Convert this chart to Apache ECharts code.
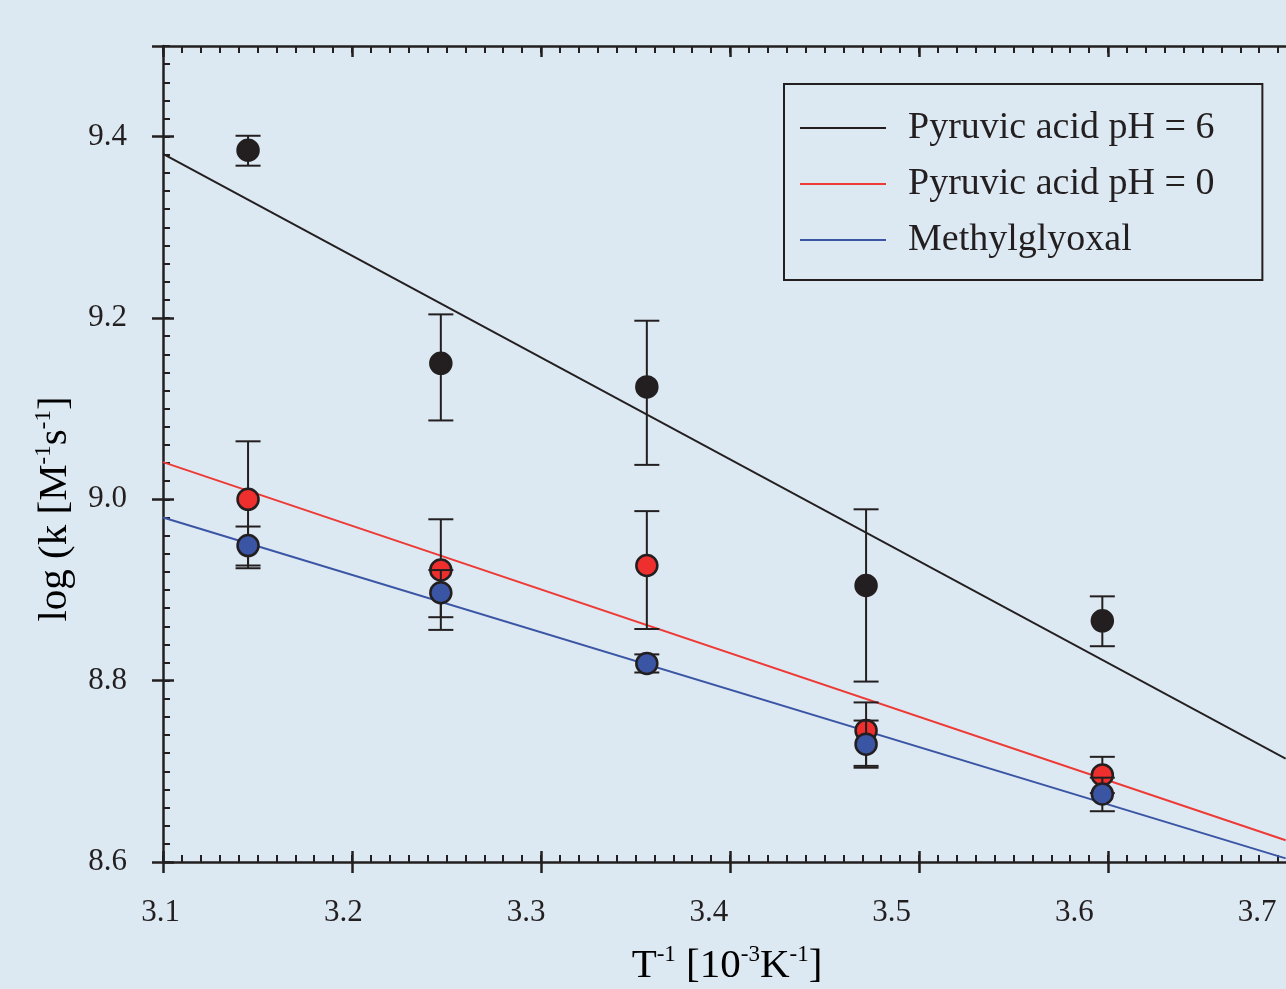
<!DOCTYPE html>
<html>
<head>
<meta charset="utf-8">
<script src="https://cdn.jsdelivr.net/npm/echarts@6/dist/echarts.min.js"></script>
<style>
html, body { margin: 0; padding: 0; background: #dde9f2; }
#chart { width: 1286px; height: 989px; }
</style>
</head>
<body>
<div id="chart"></div>
<script>
// 1/T [10^-3 K^-1] (45, 35, 25, 15, 5 C)
var invT = [3.145, 3.247, 3.356, 3.472, 3.597];

// Pyruvic acid pH = 6
var pyr6   = [9.385, 9.150, 9.124, 8.905, 8.866];
var pyr6Hi = [9.401, 9.204, 9.197, 8.989, 8.893];
var pyr6Lo = [9.368, 9.087, 9.038, 8.799, 8.838];

// Pyruvic acid pH = 0
var pyr0   = [9.000, 8.922, 8.927, 8.745, 8.696];
var pyr0Hi = [9.064, 8.978, 8.987, 8.776, 8.716];
var pyr0Lo = [8.924, 8.856, 8.857, 8.706, 8.676];

// Methylglyoxal
var mgly   = [8.949, 8.897, 8.819, 8.730, 8.675];
var mglyHi = [8.970, 8.922, 8.829, 8.756, 8.693];
var mglyLo = [8.927, 8.870, 8.809, 8.704, 8.656];

// fitted lines (ends)
var fitX    = [3.1, 3.694];
var fitPyr6 = [9.381, 8.714];
var fitPyr0 = [9.041, 8.624];
var fitMgly = [8.980, 8.604];

var names = ['Pyruvic acid pH = 6', 'Pyruvic acid pH = 0', 'Methylglyoxal'];

var INK = '#231f20';
var FONT = '"Liberation Serif", "Times New Roman", serif';

function pairs(xs, ys) {
    var out = [];
    for (var i = 0; i < xs.length; i++) out.push([xs[i], ys[i]]);
    return out;
}

function bars(xs, lo, hi) {
    var out = [];
    for (var i = 0; i < xs.length; i++) out.push([xs[i], lo[i], hi[i]]);
    return out;
}

// vertical bar with caps
function errRender(params, api) {
    var x = api.value(0);
    var top = api.coord([x, api.value(2)]);
    var bot = api.coord([x, api.value(1)]);
    var hw = 12.5;
    var st = { stroke: INK, lineWidth: 2 };
    return {
        type: 'group',
        children: [
            { type: 'line', shape: { x1: top[0], y1: top[1], x2: bot[0], y2: bot[1] }, style: st },
            { type: 'line', shape: { x1: top[0] - hw, y1: top[1], x2: top[0] + hw, y2: top[1] }, style: st },
            { type: 'line', shape: { x1: bot[0] - hw, y1: bot[1], x2: bot[0] + hw, y2: bot[1] }, style: st }
        ]
    };
}

var chart = echarts.init(document.getElementById('chart'));

var lineSt = { color: INK, width: 2.5 };
var noLabel = { show: false };

// grid 0 : data (the frame runs past the right edge of the picture)
var gx = { gridIndex: 0, type: 'value', min: 3.1, max: 3.75, splitLine: { show: false }, axisLabel: noLabel };
var gy = { gridIndex: 0, type: 'value', min: 8.6, max: 9.5, splitLine: { show: false } };

var option = {
    backgroundColor: '#dde9f2',
    animation: false,
    grid: [
        { left: 163, top: 46, width: 1228.5, height: 816, outerBoundsMode: 'none' },
        // tick labels of the original sit on a slightly narrower scale
        { left: 160.5, top: 46, width: 1188, height: 816, outerBoundsMode: 'none' }
    ],
    legend: {
        data: names,
        orient: 'vertical',
        left: 784,
        top: 84,
        padding: [21, 48, 17, 16],
        borderColor: INK,
        borderWidth: 2,
        icon: 'rect',
        itemWidth: 86,
        itemHeight: 2,
        itemGap: 10,
        textStyle: { fontFamily: FONT, fontSize: 38, lineHeight: 38, color: INK, padding: [8, 0, 0, 17] }
    },
    xAxis: [
        Object.assign({}, gx, { position: 'bottom', interval: 0.1,
            axisLine: { lineStyle: lineSt }, axisTick: { inside: true, length: 11, lineStyle: lineSt } }),
        Object.assign({}, gx, { position: 'bottom', interval: 0.01, axisLine: { show: false },
            axisTick: { inside: true, length: 7, lineStyle: { color: INK, width: 2 } } }),
        Object.assign({}, gx, { position: 'bottom', interval: 0.1, axisLine: { show: false },
            axisTick: { inside: false, length: 11, lineStyle: lineSt } }),
        Object.assign({}, gx, { position: 'top', interval: 0.1,
            axisLine: { lineStyle: lineSt }, axisTick: { inside: true, length: 11, lineStyle: lineSt } }),
        Object.assign({}, gx, { position: 'top', interval: 0.01, axisLine: { show: false },
            axisTick: { inside: true, length: 7, lineStyle: { color: INK, width: 2 } } }),
        {
            gridIndex: 1, type: 'value', min: 3.1, max: 3.75, interval: 0.1, position: 'bottom',
            splitLine: { show: false }, axisLine: { show: false }, axisTick: { show: false },
            axisLabel: { margin: 35, fontFamily: FONT, fontSize: 31, color: INK, showMaxLabel: false,
                formatter: function (v) { return v.toFixed(1); } }
        }
    ],
    yAxis: [
        Object.assign({}, gy, { position: 'left', interval: 0.2,
            axisLine: { lineStyle: lineSt }, axisTick: { inside: true, length: 11, lineStyle: lineSt },
            axisLabel: { margin: 36, fontFamily: FONT, fontSize: 31, color: INK, showMaxLabel: false,
                formatter: function (v) { return v.toFixed(1); } } }),
        Object.assign({}, gy, { position: 'left', interval: 0.02, axisLine: { show: false }, axisLabel: noLabel,
            axisTick: { inside: true, length: 7, lineStyle: { color: INK, width: 2 } } }),
        Object.assign({}, gy, { position: 'left', interval: 0.2, axisLine: { show: false }, axisLabel: noLabel,
            axisTick: { inside: false, length: 11, lineStyle: lineSt } }),
        { gridIndex: 1, type: 'value', min: 8.6, max: 9.5, show: false }
    ],
    graphic: [
        {
            type: 'text', x: 727, y: 966,
            style: {
                text: '{b|T}{s|-1}{b| [10}{s|-3}{b|K}{s|-1}{b|]}',
                align: 'center', verticalAlign: 'middle',
                rich: {
                    b: { fontFamily: FONT, fontSize: 41, color: INK, lineHeight: 46 },
                    s: { fontFamily: FONT, fontSize: 23, color: INK, verticalAlign: 'top', lineHeight: 30 }
                }
            }
        },
        {
            type: 'text', x: 55, y: 509, rotation: Math.PI / 2,
            style: {
                text: '{b|log (k [M}{s|-1}{b|s}{s|-1}{b|]}',
                align: 'center', verticalAlign: 'middle',
                rich: {
                    b: { fontFamily: FONT, fontSize: 41, color: INK, lineHeight: 46 },
                    s: { fontFamily: FONT, fontSize: 23, color: INK, verticalAlign: 'top', lineHeight: 30 }
                }
            }
        }
    ],
    series: [
        { name: names[0], type: 'line', data: pairs(fitX, fitPyr6), symbol: 'none', z: 2,
          lineStyle: { color: INK, width: 2 }, itemStyle: { color: INK } },
        { name: names[1], type: 'line', data: pairs(fitX, fitPyr0), symbol: 'none', z: 2,
          lineStyle: { color: '#ee3a36', width: 2 }, itemStyle: { color: '#ee3a36' } },
        { name: names[2], type: 'line', data: pairs(fitX, fitMgly), symbol: 'none', z: 2,
          lineStyle: { color: '#3b55a5', width: 2 }, itemStyle: { color: '#3b55a5' } },

        { name: 'err6', type: 'custom', renderItem: errRender, data: bars(invT, pyr6Lo, pyr6Hi), z: 3 },
        { name: 'pts6', type: 'scatter', data: pairs(invT, pyr6), symbolSize: 21, z: 4,
          itemStyle: { color: INK, borderColor: INK, borderWidth: 2.5, opacity: 1 } },
        { name: 'err0', type: 'custom', renderItem: errRender, data: bars(invT, pyr0Lo, pyr0Hi), z: 5 },
        { name: 'pts0', type: 'scatter', data: pairs(invT, pyr0), symbolSize: 21, z: 6,
          itemStyle: { color: '#ee2f2d', borderColor: INK, borderWidth: 2.5, opacity: 1 } },
        { name: 'errM', type: 'custom', renderItem: errRender, data: bars(invT, mglyLo, mglyHi), z: 7 },
        { name: 'ptsM', type: 'scatter', data: pairs(invT, mgly), symbolSize: 21, z: 8,
          itemStyle: { color: '#3a55a4', borderColor: INK, borderWidth: 2.5, opacity: 1 } }
    ]
};

chart.setOption(option);
</script>
</body>
</html>
